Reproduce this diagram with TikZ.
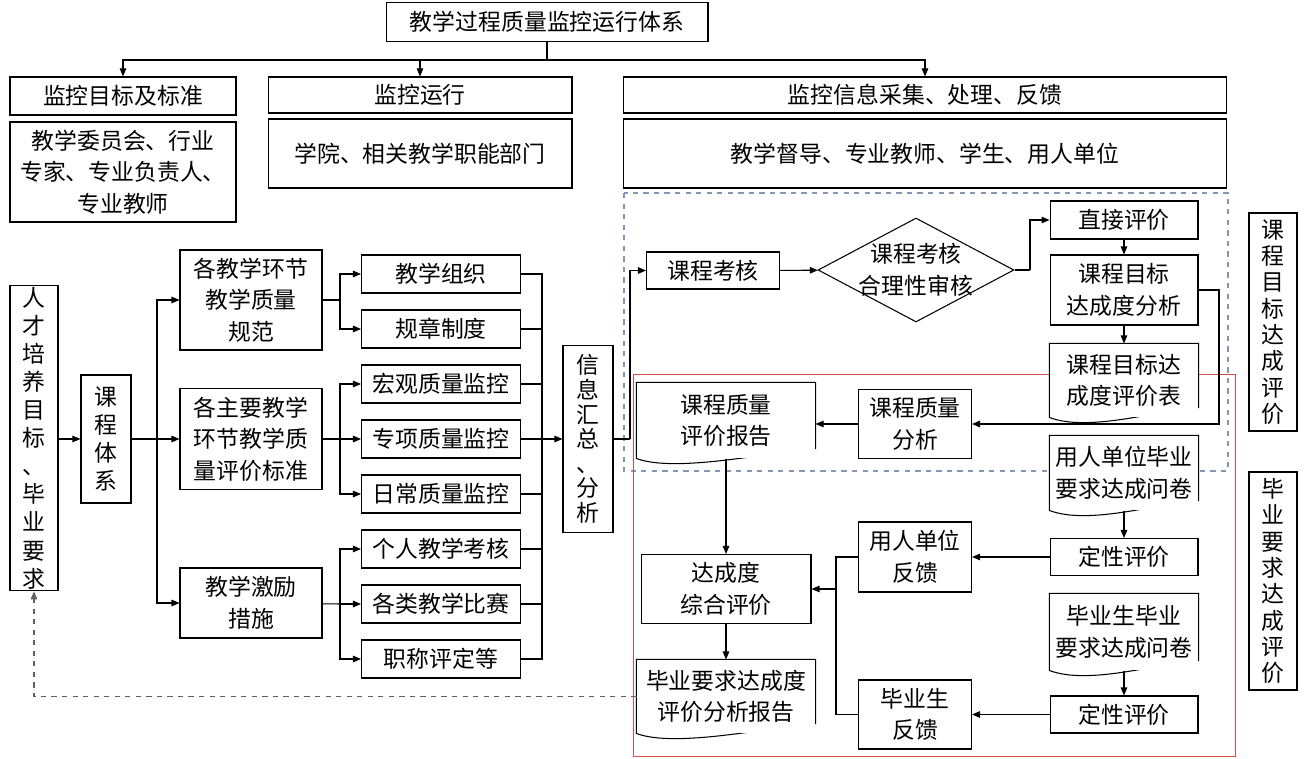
\documentclass[tikz,border=0pt]{standalone}
\usepackage{fontspec}
\usepackage{xcolor}
\usepackage{tikz}
\usetikzlibrary{shapes.geometric,arrows.meta}
\newfontfamily\cjk{Noto Sans CJK SC}

\definecolor{frameblue}{HTML}{8496B0}
\definecolor{framered}{HTML}{D05050}
\definecolor{backgray}{HTML}{606060}

\tikzset{
  box/.style={draw, fill=white, align=center, inner sep=1pt, line width=0.6pt,
    font=\cjk\fontsize{13pt}{18pt}\selectfont},
  vbox/.style={box, font=\cjk\fontsize{13pt}{15pt}\selectfont},
  item/.style={box, minimum width=3.18cm, minimum height=0.76cm},
  doc/.style={box, draw=none, append after command={\pgfextra{
    \draw[line width=0.6pt] (\tikzlastnode.north west) -- (\tikzlastnode.north east)
      -- ([yshift=0.2cm]\tikzlastnode.south east)
      .. controls +(-0.8cm,-0.05cm) and +(0.8cm,-0.3cm) .. (\tikzlastnode.south west) -- cycle;}}},
  arr/.style={-{Triangle[length=1.6mm,width=1.3mm]}, line width=0.6pt},
  line/.style={line width=0.6pt}
}

\begin{document}
\begin{tikzpicture}[x=0.02cm,y=-0.02cm]
\useasboundingbox (0,0) rectangle (1307,759);

\draw[dashed, draw=frameblue, line width=0.6pt] (624,193) rectangle (1228,471);
\draw[draw=framered, line width=0.5pt] (633,374) rectangle (1235,756);

\node[box, minimum width=6.44cm, minimum height=0.78cm] (top) at (547,22) {教学过程质量监控运行体系};

\node[box, minimum width=4.52cm, minimum height=0.76cm] (aim) at (123,96) {监控目标及标准};
\node[box, minimum width=4.52cm, minimum height=2cm] (aimwho) at (123,172) {教学委员会、行业\\专家、专业负责人、\\专业教师};
\node[box, minimum width=6.08cm, minimum height=0.72cm] (run) at (420,95) {监控运行};
\node[box, minimum width=6.08cm, minimum height=1.38cm] (runwho) at (420,153.5) {学院、相关教学职能部门};
\node[box, minimum width=12.08cm, minimum height=0.72cm] (inf) at (925,95) {监控信息采集、处理、反馈};
\node[box, minimum width=12.08cm, minimum height=1.38cm] (infwho) at (925,153.5) {教学督导、专业教师、学生、用人单位};

\node[vbox, minimum width=0.96cm, minimum height=6.1cm, font=\cjk\fontsize{13pt}{16pt}\selectfont] (goal) at (34,438) {人\\才\\培\\养\\目\\标\\、\\毕\\业\\要\\求};
\node[vbox, minimum width=1cm, minimum height=2.56cm, font=\cjk\fontsize{13pt}{16pt}\selectfont] (sys) at (106,439) {课\\程\\体\\系};

\node[box, minimum width=2.84cm, minimum height=2cm] (std1) at (251,300) {各教学环节\\教学质量\\规范};
\node[box, minimum width=2.84cm, minimum height=2.02cm] (std2) at (251,439) {各主要教学\\环节教学质\\量评价标准};
\node[box, minimum width=2.84cm, minimum height=1.4cm] (std3) at (251,603) {教学激励\\措施};

\node[item] (m1) at (441,274) {教学组织};
\node[item] (m2) at (441,329) {规章制度};
\node[item] (m3) at (441,384) {宏观质量监控};
\node[item] (m4) at (441,439) {专项质量监控};
\node[item] (m5) at (441,494) {日常质量监控};
\node[item] (m6) at (441,549) {个人教学考核};
\node[item] (m7) at (441,604) {各类教学比赛};
\node[item] (m8) at (441,659) {职称评定等};

\node[vbox, minimum width=1cm, minimum height=3.74cm, font=\cjk\fontsize{13pt}{14pt}\selectfont] (sum) at (588,439) {信\\息\\汇\\总\\、\\分\\析};

\node[box, minimum width=2.66cm, minimum height=0.74cm] (exam) at (713,270.5) {课程考核};
\node[box, diamond, aspect=1.9, inner sep=-3pt, minimum width=3.92cm, minimum height=2.08cm] (chk) at (916,270) {课程考核\\合理性审核};
\node[box, minimum width=2.96cm, minimum height=0.76cm] (dir) at (1124,220) {直接评价};
\node[box, minimum width=2.96cm, minimum height=1.4cm] (ana) at (1124,290) {课程目标\\达成度分析};
\node[doc, minimum width=2.96cm, minimum height=1.46cm] (tab) at (1124,380.5) {课程目标达\\成度评价表};
\node[box, minimum width=2.26cm, minimum height=1.38cm] (cqa) at (915,424) {课程质量\\分析};
\node[doc, minimum width=3.56cm, minimum height=1.5cm] (cqr) at (726,420.5) {课程质量\\评价报告};
\node[box, minimum width=3.4cm, minimum height=1.38cm] (comp) at (726,589) {达成度\\综合评价};
\node[doc, minimum width=3.56cm, minimum height=1.46cm] (rep) at (726,696.5) {毕业要求达成度\\评价分析报告};

\node[doc, minimum width=2.96cm, minimum height=1.48cm] (q1) at (1124,473) {用人单位毕业\\要求达成问卷};
\node[box, minimum width=2.96cm, minimum height=0.74cm] (qe1) at (1124,557) {定性评价};
\node[box, minimum width=2.26cm, minimum height=1.4cm] (emp) at (915,557) {用人单位\\反馈};
\node[doc, minimum width=2.96cm, minimum height=1.52cm] (q2) at (1124,632) {毕业生毕业\\要求达成问卷};
\node[box, minimum width=2.96cm, minimum height=0.74cm] (qe2) at (1124,714.5) {定性评价};
\node[box, minimum width=2.26cm, minimum height=1.38cm] (grd) at (915,714.5) {毕业生\\反馈};

\node[vbox, minimum width=0.96cm, minimum height=4.36cm] (lab1) at (1273,322) {课\\程\\目\\标\\达\\成\\评\\价};
\node[vbox, minimum width=0.96cm, minimum height=4.36cm] (lab2) at (1273,581) {毕\\业\\要\\求\\达\\成\\评\\价};

\coordinate (tb) at (547,60);
\draw[line] (top) -- (tb);
\draw[arr] (tb) -| (aim);
\draw[arr] (tb) -| (run);
\draw[arr] (tb) -| (inf);

\draw[arr] (goal.east |- sys) -- (sys);
\coordinate (b1) at (157,439);
\draw[line] (sys) -- (b1);
\draw[arr] (b1) |- (std1);
\draw[arr] (b1) -- (std2);
\draw[arr] (b1) |- (std3);

\coordinate (b2) at (340,300);
\draw[line] (std1) -- (b2);
\draw[arr] (b2) |- (m1);
\draw[arr] (b2) |- (m2);
\coordinate (b3) at (340,439);
\draw[line] (std2) -- (b3);
\draw[arr] (b3) |- (m3);
\draw[arr] (b3) -- (m4);
\draw[arr] (b3) |- (m5);
\coordinate (b4) at (340,604);
\draw[line] (std3) -- (b4);
\draw[arr] (b4) |- (m6);
\draw[arr] (b4) -- (m7);
\draw[arr] (b4) |- (m8);

\coordinate (c1) at (542,439);
\draw[line] (m1) -| (c1);
\draw[line] (m2) -| (c1);
\draw[line] (m3) -| (c1);
\draw[line] (m4) -| (c1);
\draw[line] (m5) -| (c1);
\draw[line] (m6) -| (c1);
\draw[line] (m7) -| (c1);
\draw[line] (m8) -| (c1);
\draw[arr] (c1) -- (sum);

\coordinate (c2) at (630,439);
\draw[line] (sum) -- (c2);
\draw[arr] (c2) |- (exam);
\draw[arr] (exam) -- (chk);
\coordinate (c3) at (1030,270);
\draw[line] (chk) -- (c3);
\draw[arr] (c3) |- (dir);
\draw[arr] (dir) -- (ana);
\draw[arr] (ana) -- (tab);
\coordinate (c4) at (1219,424);
\draw[arr] (ana) -| (c4) -- (cqa);
\draw[arr] (cqa) -- (cqa -| cqr.east);
\draw[arr] (cqr) -- (comp);
\draw[arr] (comp) -- (rep);

\draw[arr] (q1) -- (qe1);
\draw[arr] (qe1) -- (emp);
\draw[arr] (q2) -- (qe2);
\draw[arr] (qe2) -- (grd);
\coordinate (c5) at (836,589);
\draw[line] (emp) -| (c5);
\draw[line] (grd) -| (c5);
\draw[arr] (c5) -- (comp);

\draw[arr, dashed, draw=backgray] (rep) -| (goal);
\end{tikzpicture}
\end{document}
